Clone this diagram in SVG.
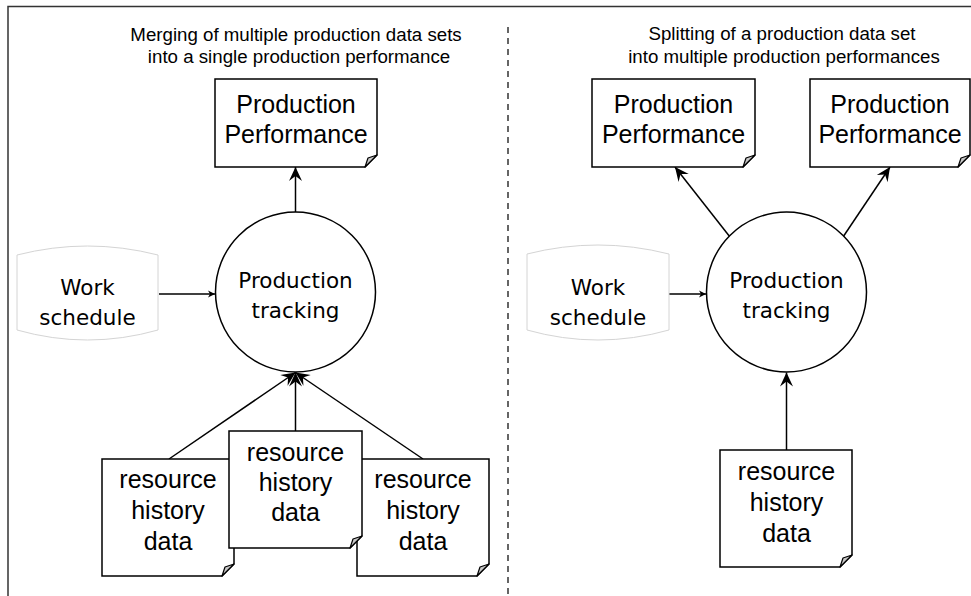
<svg xmlns="http://www.w3.org/2000/svg" width="971" height="596" viewBox="0 0 971 596">
<style>
.doc{fill:#fff;stroke:#000;stroke-width:1.5;stroke-linejoin:miter}
.fold{fill:#c8c8c8;stroke:#000;stroke-width:1.2;stroke-linejoin:round}
.dt{font-family:"Liberation Sans",Arial,sans-serif;font-size:25px;text-anchor:middle;fill:#000}
.ct{font-family:"DejaVu Sans",Tahoma,sans-serif;font-size:21.5px;text-anchor:middle;fill:#000}
.tt{font-family:"Liberation Sans",Arial,sans-serif;font-size:18.7px;text-anchor:middle;fill:#000}
.circ{fill:#fff;stroke:#000;stroke-width:1.5}
.db{fill:#fff;stroke:#d4d4d4;stroke-width:1}
.conn{stroke:#000;stroke-width:1.5;fill:none;marker-end:url(#ah)}
.conn2{stroke:#000;stroke-width:1.5;fill:none;marker-end:url(#ahs)}
</style>
<defs>
<marker id="ah" markerUnits="userSpaceOnUse" markerWidth="15" markerHeight="13" refX="14" refY="6.5" orient="auto" overflow="visible">
<path d="M0,0 L14,6.5 L0,13 L5,6.5 Z" fill="#000"/>
</marker>
<marker id="ahs" markerUnits="userSpaceOnUse" markerWidth="8" markerHeight="7" refX="7" refY="3.5" orient="auto" overflow="visible">
<path d="M0,0 L7,3.5 L0,7 L2,3.5 Z" fill="#000"/>
</marker>
</defs>
<rect x="0" y="0" width="971" height="596" fill="#fff"/>
<g id="frame">
<rect x="8" y="6.5" width="980" height="600" fill="none" stroke="#333" stroke-width="1.5"/>
<line x1="508" y1="27" x2="508" y2="596" stroke="#333" stroke-width="1.5" stroke-dasharray="6 5"/>
</g>
<g id="titles">
<text class="tt" x="296" y="41">Merging of multiple production data sets</text>
<text class="tt" x="299" y="63">into a single production performance</text>
<text class="tt" x="782" y="40">Splitting of a production data set</text>
<text class="tt" x="784" y="63">into multiple production performances</text>
</g>
<g id="connectors">
<line class="conn" x1="295.5" y1="212" x2="295.5" y2="167"/>
<line class="conn2" x1="159" y1="294" x2="215" y2="294"/>
<line class="conn" x1="169" y1="459" x2="295.5" y2="372.5"/>
<line class="conn" x1="295.5" y1="431" x2="295.5" y2="372.5"/>
<line class="conn" x1="423" y1="459" x2="295.5" y2="372.5"/>
<line class="conn" x1="730" y1="237" x2="675" y2="167"/>
<line class="conn" x1="843" y1="237" x2="890" y2="167"/>
<line class="conn2" x1="669" y1="294" x2="706" y2="294"/>
<line class="conn" x1="786.5" y1="450" x2="786.5" y2="372.5"/>
</g>
<g id="pp-left">
<path class="doc" d="M215,79 H377 V155 L365,167 H215 Z"/>
<path class="fold" d="M377,155 L365,167 L368,158 Z"/>
<text class="dt" x="296" y="113">Production</text>
<text class="dt" x="296" y="143">Performance</text>
</g>
<g id="ws-left">
<path class="db" d="M17,255 Q87.5,237 158,255 V330 Q87.5,350 17,330 Z"/>
<text class="ct" x="87.5" y="295">Work</text>
<text class="ct" x="87.5" y="325">schedule</text>
</g>
<g id="pt-left">
<circle class="circ" cx="295.5" cy="292" r="80"/>
<text class="ct" x="295.5" y="288">Production</text>
<text class="ct" x="295.5" y="318">tracking</text>
</g>
<g id="rh-left">
<path class="doc" d="M102,459 H234 V564 L222,576 H102 Z"/>
<path class="fold" d="M234,564 L222,576 L225,567 Z"/>
<text class="dt" x="168" y="488">resource</text>
<text class="dt" x="168" y="519">history</text>
<text class="dt" x="168" y="550">data</text>
</g>
<g id="rh-right">
<path class="doc" d="M357,459 H489 V564 L477,576 H357 Z"/>
<path class="fold" d="M489,564 L477,576 L480,567 Z"/>
<text class="dt" x="423" y="488">resource</text>
<text class="dt" x="423" y="519">history</text>
<text class="dt" x="423" y="550">data</text>
</g>
<g id="rh-mid">
<path class="doc" d="M229,431 H362 V536 L350,548 H229 Z"/>
<path class="fold" d="M362,536 L350,548 L353,539 Z"/>
<text class="dt" x="295.5" y="461">resource</text>
<text class="dt" x="295.5" y="491">history</text>
<text class="dt" x="295.5" y="521">data</text>
</g>
<g id="pp-r1">
<path class="doc" d="M592,79 H755 V155 L743,167 H592 Z"/>
<path class="fold" d="M755,155 L743,167 L746,158 Z"/>
<text class="dt" x="673.5" y="113">Production</text>
<text class="dt" x="673.5" y="143">Performance</text>
</g>
<g id="pp-r2">
<path class="doc" d="M810,79 H970 V155 L958,167 H810 Z"/>
<path class="fold" d="M970,155 L958,167 L961,158 Z"/>
<text class="dt" x="890" y="113">Production</text>
<text class="dt" x="890" y="143">Performance</text>
</g>
<g id="ws-right">
<path class="db" d="M527,254 Q598,236 669,254 V330 Q598,350 527,330 Z"/>
<text class="ct" x="598" y="295">Work</text>
<text class="ct" x="598" y="325">schedule</text>
</g>
<g id="pt-right">
<circle class="circ" cx="786.5" cy="292" r="80"/>
<text class="ct" x="786.5" y="288">Production</text>
<text class="ct" x="786.5" y="318">tracking</text>
</g>
<g id="rh-single">
<path class="doc" d="M720,450 H852 V555 L840,567 H720 Z"/>
<path class="fold" d="M852,555 L840,567 L843,558 Z"/>
<text class="dt" x="786.5" y="480">resource</text>
<text class="dt" x="786.5" y="511">history</text>
<text class="dt" x="786.5" y="542">data</text>
</g>
</svg>
